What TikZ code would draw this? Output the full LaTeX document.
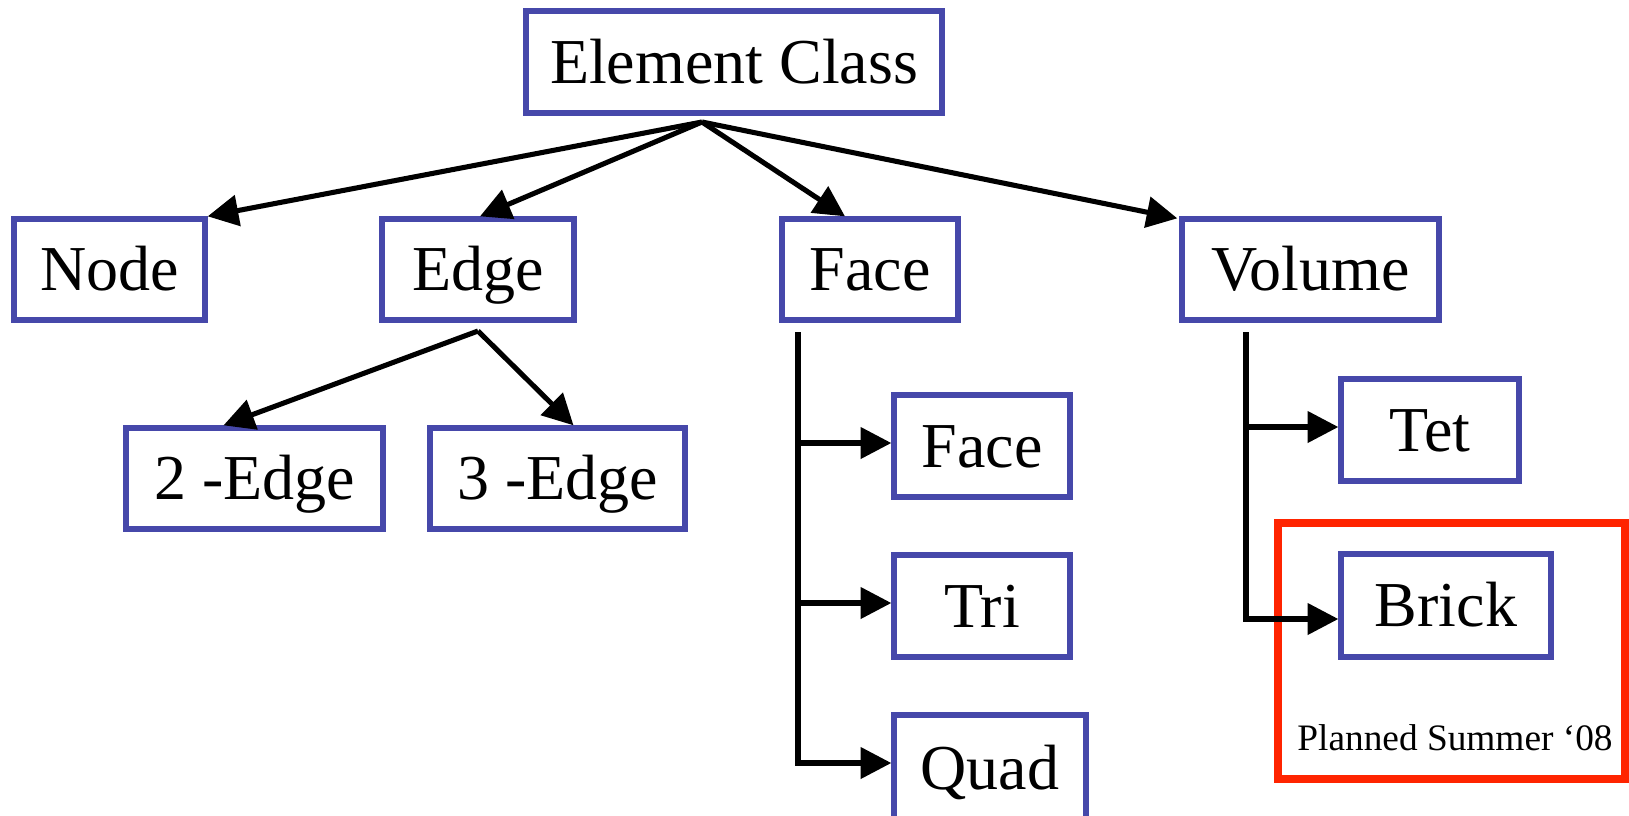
\documentclass[tikz,border=0pt]{standalone}
\usepackage{fontspec}
\setmainfont{Liberation Serif}
\usetikzlibrary{arrows.meta,calc}

\definecolor{boxblue}{RGB}{70,72,170}
\definecolor{planred}{RGB}{255,36,0}

\tikzset{
  classbox/.style={draw=boxblue, line width=4pt, inner sep=0pt,
    font=\fontsize{48}{52}\selectfont, text height=31.8pt, text depth=0pt},
  link/.style={draw=black, line width=3.8pt,
    -{Triangle[length=23pt,width=23pt]}},
  plan/.style={draw=planred, line width=6.5pt, inner sep=0pt}
}

\begin{document}
\begin{tikzpicture}[x=0.75pt, y=-0.75pt]
  \useasboundingbox (0,0) rectangle (1629,815);

  % top level
  \node[classbox, minimum width=416pt*0.75, minimum height=102pt*0.75] (elem) at (734,62) {Element Class};

  % second level
  \node[classbox, minimum width=191pt*0.75, minimum height=101pt*0.75] (node) at (109.5,269.5) {Node};
  \node[classbox, minimum width=192pt*0.75, minimum height=101pt*0.75] (edge) at (478,269.5) {Edge};
  \node[classbox, minimum width=176pt*0.75, minimum height=101pt*0.75] (face) at (870,269.5) {Face};
  \node[classbox, minimum width=257pt*0.75, minimum height=101pt*0.75] (volume) at (1310.5,269.5) {Volume};

  % edge kinds
  \node[classbox, minimum width=257pt*0.75, minimum height=101pt*0.75] (edgetwo) at (254.5,478.5) {2 -Edge};
  \node[classbox, minimum width=255pt*0.75, minimum height=101pt*0.75] (edgethree) at (557.5,478.5) {3 -Edge};

  % face kinds
  \node[classbox, minimum width=176pt*0.75, minimum height=102pt*0.75] (facesub) at (982,446) {Face};
  \node[classbox, minimum width=176pt*0.75, minimum height=102pt*0.75] (tri) at (982,606) {Tri};
  \node[classbox, minimum width=192pt*0.75, minimum height=106pt*0.75] (quad) at (990,768) {Quad};

  % volume kinds
  \node[classbox, minimum width=178pt*0.75, minimum height=102pt*0.75] (tet) at (1430,430) {Tet};
  \node[classbox, minimum width=210pt*0.75, minimum height=103pt*0.75] (brick) at (1446,605.5) {Brick};

  % planned frame and its note
  \node[plan, minimum width=347pt*0.75, minimum height=256pt*0.75] (planned) at (1451.5,651) {};
  \node[font=\fontsize{28}{32}\selectfont, anchor=base] (plannote) at (1455,750) {Planned Summer ‘08};

  % branch points
  \coordinate (elemroot) at (702,122);
  \coordinate (edgeroot) at (478,331);
  \coordinate (facestem) at (798,332);
  \coordinate (volstem) at (1246,332);

  % element class to its kinds
  \draw[link] (elemroot) -- (node.north east);
  \draw[link] (elemroot) -- ($(edge.north)+(2,0)$);
  \draw[link] (elemroot) -- ($(face.north)+(-25,0)$);
  \draw[link] (elemroot) -- ($(volume.north west)+(-2,2)$);

  % edge kinds
  \draw[link] (edgeroot) -- ($(edgetwo.north)+(-31,0)$);
  \draw[link] (edgeroot) -- ($(edgethree.north)+(16,0)$);

  % face kinds
  \coordinate (facesubin) at ($(facesub.west)+(0,-3)$);
  \coordinate (triin) at ($(tri.west)+(0,-3)$);
  \coordinate (quadin) at ($(quad.west)+(0,-5)$);
  \draw[link] (facestem) |- (quadin);
  \draw[link] (facestem |- facesubin) -- (facesubin);
  \draw[link] (facestem |- triin) -- (triin);

  % volume kinds
  \coordinate (tetin) at ($(tet.west)+(0,-3)$);
  \coordinate (brickin) at ($(brick.west)+(0,13.5)$);
  \draw[link] (volstem) |- (brickin);
  \draw[link] (volstem |- tetin) -- (tetin);
\end{tikzpicture}
\end{document}
